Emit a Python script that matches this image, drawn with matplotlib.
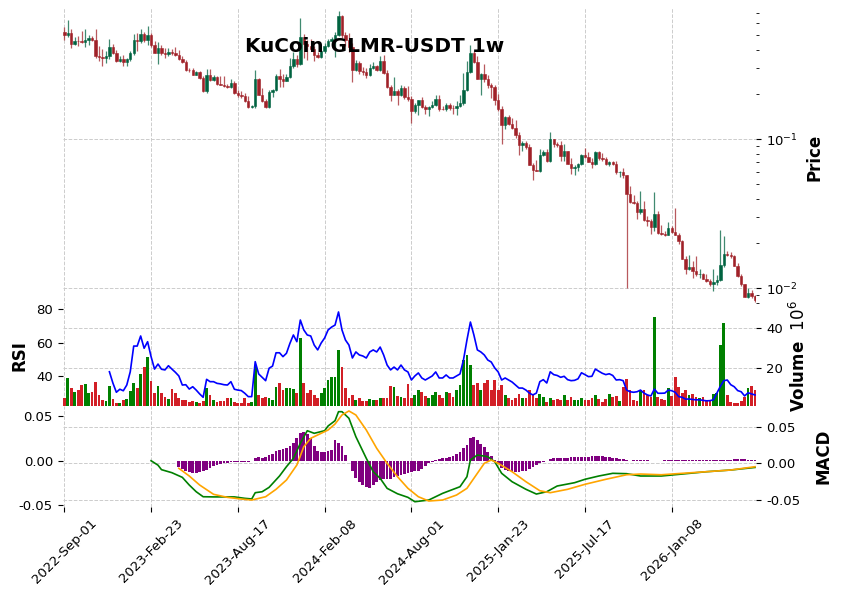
import numpy as np
import matplotlib
matplotlib.use("Agg")
import matplotlib.pyplot as plt
from matplotlib.ticker import NullFormatter, LogLocator, FormatStrFormatter

title = "KuCoin GLMR-USDT 1w"
tick_pos = [0, 25, 50, 75, 100, 125, 150, 175]
tick_labels = ["2022-Sep-01", "2023-Feb-23", "2023-Aug-17", "2024-Feb-08",
               "2024-Aug-01", "2025-Jan-23", "2025-Jul-17", "2026-Jan-08"]

# weekly OHLC (USDT)
opens = [
    0.523, 0.499, 0.517, 0.438, 0.457, 0.455, 0.450, 0.464, 0.479, 0.466,
    0.362, 0.357, 0.352, 0.362, 0.4145, 0.380, 0.337, 0.348, 0.331, 0.348,
    0.380, 0.464, 0.455, 0.509, 0.462, 0.499, 0.428, 0.381, 0.410, 0.378,
    0.373, 0.385, 0.378, 0.366, 0.346, 0.331, 0.293, 0.292, 0.271, 0.281,
    0.258, 0.212, 0.269, 0.249, 0.2606, 0.235, 0.232, 0.228, 0.2245, 0.2387,
    0.2045, 0.1977, 0.1953, 0.1815, 0.164, 0.1681, 0.254, 0.1983, 0.1815, 0.164,
    0.2087, 0.2142, 0.2646, 0.255, 0.2473, 0.2618, 0.3087, 0.348, 0.320, 0.4835,
    0.436, 0.421, 0.4055, 0.368, 0.357, 0.393, 0.421, 0.457, 0.471, 0.503,
    0.6755, 0.499, 0.464, 0.4145, 0.293, 0.325, 0.2862, 0.283, 0.271, 0.301,
    0.309, 0.293, 0.334, 0.280, 0.2233, 0.199, 0.212, 0.1983, 0.221, 0.1932,
    0.1872, 0.1556, 0.1707, 0.1827, 0.164, 0.1591, 0.1647, 0.1707, 0.1872, 0.1598,
    0.1586, 0.1707, 0.1622, 0.161, 0.1681, 0.1752, 0.2142, 0.283, 0.380, 0.331,
    0.255, 0.2754, 0.255, 0.2303, 0.2253, 0.1844, 0.1605, 0.125, 0.1412, 0.1274,
    0.119, 0.1075, 0.092, 0.0944, 0.0888, 0.0676, 0.0625, 0.0614, 0.0789, 0.0823,
    0.0718, 0.1000, 0.093, 0.0916, 0.0769, 0.0831, 0.0683, 0.0642, 0.0652, 0.0683,
    0.0789, 0.0761, 0.0704, 0.0683, 0.0823, 0.0750, 0.0742, 0.0683, 0.0707, 0.0686,
    0.0601, 0.0606, 0.0572, 0.0432, 0.0378, 0.0374, 0.0325, 0.0341, 0.0288, 0.0283,
    0.0257, 0.0315, 0.0236, 0.0232, 0.0228, 0.0254, 0.0239, 0.0229, 0.0206, 0.0158,
    0.0134, 0.0139, 0.0130, 0.0124, 0.0125, 0.0116, 0.0112, 0.0106, 0.0110, 0.0113,
    0.0144, 0.0170, 0.0166, 0.0164, 0.0142, 0.0121, 0.0106, 0.0087, 0.0093, 0.0089,
]
highs = [
    0.567, 0.628, 0.548, 0.486, 0.49, 0.537, 0.553, 0.499, 0.49, 0.548,
    0.423, 0.404, 0.390, 0.473, 0.436, 0.3975, 0.364, 0.37, 0.352, 0.393,
    0.509, 0.517, 0.551, 0.523, 0.575, 0.517, 0.455, 0.45, 0.432, 0.41,
    0.41, 0.404, 0.4145, 0.3975, 0.362, 0.342, 0.302, 0.300, 0.288, 0.287,
    0.265, 0.296, 0.294, 0.271, 0.267, 0.267, 0.267, 0.234, 0.254, 0.245,
    0.215, 0.21, 0.203, 0.194, 0.170, 0.292, 0.258, 0.221, 0.186, 0.213,
    0.218, 0.273, 0.294, 0.274, 0.274, 0.35, 0.385, 0.366, 0.652, 0.509,
    0.466, 0.473, 0.425, 0.385, 0.3975, 0.446, 0.471, 0.486, 0.526, 0.723,
    0.687, 0.526, 0.517, 0.443, 0.341, 0.336, 0.305, 0.301, 0.32, 0.331,
    0.315, 0.36, 0.366, 0.292, 0.2314, 0.2606, 0.218, 0.2314, 0.228, 0.228,
    0.194, 0.174, 0.1844, 0.192, 0.1707, 0.167, 0.181, 0.1983, 0.199, 0.167,
    0.1752, 0.1745, 0.1699, 0.1797, 0.199, 0.277, 0.334, 0.428, 0.393, 0.36,
    0.2785, 0.322, 0.271, 0.2387, 0.2303, 0.2015, 0.1665, 0.143, 0.1456, 0.1387,
    0.1353, 0.112, 0.097, 0.097, 0.093, 0.0694, 0.073, 0.086, 0.0844, 0.0865,
    0.112, 0.101, 0.096, 0.098, 0.0934, 0.0835, 0.075, 0.0676, 0.0694, 0.080,
    0.0875, 0.0823, 0.075, 0.0835, 0.0838, 0.0805, 0.0764, 0.0712, 0.0718, 0.0712,
    0.061, 0.0642, 0.0576, 0.0483, 0.0423, 0.0387, 0.0452, 0.0385, 0.0304, 0.0293,
    0.0442, 0.0329, 0.0267, 0.0241, 0.0279, 0.0261, 0.0344, 0.0236, 0.0212, 0.0164,
    0.0166, 0.0152, 0.0164, 0.0134, 0.0127, 0.0124, 0.0116, 0.0134, 0.0122, 0.0247,
    0.0224, 0.0177, 0.0174, 0.0168, 0.0147, 0.0124, 0.0107, 0.0101, 0.0097, 0.0090,
]
lows = [
    0.466, 0.483, 0.4085, 0.428, 0.421, 0.443, 0.4145, 0.432, 0.455, 0.352,
    0.334, 0.311, 0.325, 0.348, 0.373, 0.331, 0.331, 0.309, 0.311, 0.334,
    0.37, 0.39, 0.44, 0.452, 0.428, 0.4145, 0.378, 0.322, 0.370, 0.352,
    0.365, 0.366, 0.36, 0.341, 0.323, 0.286, 0.283, 0.269, 0.269, 0.254,
    0.208, 0.2045, 0.247, 0.247, 0.2314, 0.230, 0.2253, 0.221, 0.221, 0.2015,
    0.1915, 0.189, 0.178, 0.162, 0.162, 0.161, 0.198, 0.177, 0.162, 0.162,
    0.1915, 0.212, 0.2245, 0.2253, 0.247, 0.258, 0.300, 0.3065, 0.316, 0.352,
    0.342, 0.39, 0.334, 0.352, 0.352, 0.378, 0.415, 0.432, 0.357, 0.49,
    0.479, 0.423, 0.385, 0.2425, 0.2875, 0.274, 0.27, 0.258, 0.266, 0.296,
    0.286, 0.288, 0.2754, 0.221, 0.1815, 0.1977, 0.1699, 0.1953, 0.186, 0.1815,
    0.129, 0.15, 0.145, 0.162, 0.148, 0.143, 0.162, 0.167, 0.155, 0.1573,
    0.1556, 0.1573, 0.148, 0.146, 0.1647, 0.1707, 0.2097, 0.277, 0.325, 0.255,
    0.199, 0.2425, 0.221, 0.189, 0.169, 0.1546, 0.093, 0.1178, 0.1247, 0.1172,
    0.102, 0.0789, 0.0838, 0.0865, 0.0676, 0.0536, 0.061, 0.060, 0.0769, 0.0704,
    0.0705, 0.0883, 0.0888, 0.0718, 0.0712, 0.0683, 0.0585, 0.0572, 0.061, 0.0676,
    0.075, 0.0704, 0.0642, 0.0676, 0.073, 0.0712, 0.0676, 0.0658, 0.0676, 0.0587,
    0.0556, 0.055, 0.0100, 0.0374, 0.037, 0.0293, 0.0315, 0.0281, 0.0261, 0.0232,
    0.0241, 0.0232, 0.0229, 0.0224, 0.0227, 0.0236, 0.0227, 0.0198, 0.0156, 0.0124,
    0.0132, 0.0117, 0.0121, 0.0117, 0.0116, 0.011, 0.0103, 0.0096, 0.0105, 0.0112,
    0.0138, 0.0164, 0.016, 0.014, 0.0119, 0.0104, 0.0087, 0.0086, 0.0086, 0.0081,
]
closes = [
    0.499, 0.517, 0.438, 0.457, 0.455, 0.450, 0.464, 0.479, 0.466, 0.362,
    0.357, 0.352, 0.362, 0.4145, 0.380, 0.337, 0.348, 0.331, 0.348, 0.380,
    0.464, 0.455, 0.509, 0.462, 0.499, 0.428, 0.381, 0.410, 0.378, 0.373,
    0.385, 0.378, 0.366, 0.346, 0.331, 0.293, 0.292, 0.271, 0.281, 0.258,
    0.212, 0.269, 0.249, 0.2606, 0.235, 0.232, 0.228, 0.2245, 0.2387, 0.2045,
    0.1977, 0.1953, 0.1815, 0.164, 0.1681, 0.254, 0.1983, 0.1815, 0.164, 0.2087,
    0.2142, 0.2646, 0.255, 0.2473, 0.2618, 0.3087, 0.348, 0.320, 0.4835, 0.436,
    0.421, 0.4055, 0.368, 0.357, 0.393, 0.421, 0.457, 0.471, 0.503, 0.6755,
    0.499, 0.464, 0.4145, 0.293, 0.325, 0.2862, 0.283, 0.271, 0.301, 0.309,
    0.293, 0.334, 0.280, 0.2233, 0.199, 0.212, 0.1983, 0.221, 0.1932, 0.1872,
    0.1556, 0.1707, 0.1827, 0.164, 0.1591, 0.1647, 0.1707, 0.1872, 0.1598, 0.1586,
    0.1707, 0.1622, 0.161, 0.1681, 0.1752, 0.2142, 0.283, 0.380, 0.331, 0.255,
    0.2754, 0.255, 0.2303, 0.2253, 0.1844, 0.1605, 0.125, 0.1412, 0.1274, 0.119,
    0.1075, 0.092, 0.0944, 0.0888, 0.0676, 0.0625, 0.0614, 0.0789, 0.0823, 0.0718,
    0.1000, 0.093, 0.0916, 0.0769, 0.0831, 0.0683, 0.0642, 0.0652, 0.0683, 0.0789,
    0.0761, 0.0704, 0.0683, 0.0823, 0.0750, 0.0742, 0.0683, 0.0707, 0.0686, 0.0601,
    0.0606, 0.0572, 0.0432, 0.0378, 0.0374, 0.0325, 0.0341, 0.0288, 0.0283, 0.0257,
    0.0315, 0.0236, 0.0232, 0.0228, 0.0254, 0.0239, 0.0229, 0.0206, 0.0158, 0.0134,
    0.0139, 0.0130, 0.0124, 0.0125, 0.0116, 0.0112, 0.0106, 0.0110, 0.0113, 0.0144,
    0.0170, 0.0166, 0.0164, 0.0142, 0.0121, 0.0106, 0.0087, 0.0093, 0.0089, 0.0083,
]
# volume in millions
volume = [
    5, 15, 10, 8, 9, 11.7, 12, 7.7, 8.2, 13,
    6.7, 4.2, 3.7, 11, 4.5, 2.8, 2.5, 4.2, 4.5, 8.7,
    12.8, 10, 17, 20.5, 25.8, 13.7, 7.8, 11.3, 7.8, 5.5,
    4.5, 9.5, 7.5, 5, 4.2, 4.2, 3.3, 3.7, 3, 2.5,
    3.7, 10, 6.7, 4.2, 3.3, 3.8, 3.8, 5, 5, 3.2,
    2.8, 2.5, 5, 2.5, 3, 21.6, 6.7, 5, 5.5, 5.3,
    4.2, 10.8, 12.5, 9.2, 10, 10, 9.5, 7.7, 35, 12.5,
    7.7, 9, 6.5, 5, 7.5, 10, 14, 15.5, 15.5, 29,
    20.5, 10, 5, 6.5, 4, 5, 3.5, 3.5, 4.5, 4,
    4, 5, 5, 5, 11, 10.5, 6, 5.5, 5, 12,
    5, 6.5, 9, 8, 6, 5, 6.5, 8, 6.5, 5,
    8, 7.5, 5.5, 9, 11.5, 24, 26.5, 21.5, 11.5, 12.5,
    9, 12.5, 14, 9, 14, 9, 11.5, 6.5, 5, 4,
    5, 7, 5, 5, 9, 6.5, 5, 7.2, 5.5, 3.3,
    5, 4.2, 4.8, 4.2, 6.7, 4.2, 5.5, 4.2, 4, 5,
    4.2, 4.2, 5, 6.7, 4.5, 3.3, 4.5, 7.2, 5.5, 6,
    3.5, 10.8, 14.5, 9.2, 4.2, 3.5, 9.2, 9.2, 6.7, 5.5,
    45.5, 5.5, 4.5, 4.2, 10, 6, 15.5, 10.5, 7.5, 9.2,
    6.7, 7.2, 5.5, 5, 5.5, 4.2, 3.5, 7.2, 7.7, 31.7,
    42.5, 6.7, 3.3, 2.7, 2.7, 3.5, 5.5, 10, 11.2, 9,
]
# RSI from bar 13 onwards
rsi_start = 13
rsi = [
    42.7, 36, 30.5, 32.3, 31.4, 34.8, 42.7, 58, 58, 64,
    56.7, 60.6, 51.7, 44.3, 47.3, 44.2, 43.8, 46.3, 44.3, 42.4,
    40.2, 34.8, 35, 32.4, 33.8, 31.8, 29.5, 27.5, 38.2, 36.8,
    36.8, 35.8, 35.5, 35, 34.8, 36.8, 32.3, 31.8, 31.5, 29.9,
    27.9, 27.9, 48.7, 41.4, 39.4, 37.4, 44.8, 46.1, 54, 54,
    51.7, 53.7, 59.6, 64.6, 60.6, 73.5, 67.6, 64.6, 64, 58.6,
    55.7, 59.8, 62.8, 67.6, 69.3, 70.5, 78.3, 67.6, 61.6, 58.6,
    50.9, 54.5, 52.7, 52.1, 50.9, 54.5, 55.7, 54.5, 57.4, 52.7,
    46.7, 43.8, 45.5, 43.8, 46.7, 43.8, 42.6, 37.8, 40.2, 42,
    39, 37.8, 39, 40.2, 42.6, 39, 39, 40.8, 39, 39,
    40.2, 41.4, 49.7, 61.6, 72.3, 64.6, 55.7, 54.5, 52.7, 49.7,
    48.5, 45, 42.6, 37.8, 39, 37.8, 36.6, 34.8, 33, 33,
    31.8, 30, 28.9, 30, 36.8, 38, 36, 42.7, 41, 40.5,
    39.4, 40, 38, 37.4, 37.6, 38.5, 42.1, 41, 39.8, 40,
    44.3, 43, 41.8, 41, 41.5, 40.5, 37.8, 38, 37.4, 31.8,
    30.8, 30.5, 30.8, 31.8, 30, 28.9, 28.3, 32.4, 29.9, 29.9,
    30, 31.8, 31.4, 30.5, 27.9, 27.5, 26.4, 26.5, 26.2, 26,
    26, 25.7, 25.4, 25.5, 26, 30, 34, 37.4, 37.8, 35,
    33.8, 31.5, 30.8, 28.3, 30.2, 29.5, 28.9,
]
# MACD line and signal, read at these bars
macd_x = [25, 27, 28, 31, 34, 36, 38, 40, 43, 49, 52, 54, 55, 57, 59, 62, 64, 66,
          68, 70, 72, 75, 76, 78, 79, 80, 82, 84, 87, 89, 91, 93, 96, 99, 101, 105,
          109, 114, 116, 117, 119, 122, 124, 126, 129, 133, 136, 139, 142, 147, 150,
          154, 158, 162, 166, 172, 178, 185, 192, 199]
macd = [0.0, -0.005, -0.010, -0.0134, -0.0186, -0.0272, -0.0347, -0.0403, -0.0405,
        -0.0405, -0.0421, -0.0428, -0.0358, -0.0347, -0.0298, -0.0171, -0.0067, 0.0027,
        0.0195, 0.0336, 0.0307, 0.0336, 0.0389, 0.0448, 0.0549, 0.0549, 0.0475, 0.0269,
        0.0027, -0.0123, -0.0197, -0.0309, -0.0370, -0.0410, -0.0459, -0.044,
        -0.0365, -0.0291, -0.0179, 0.0008, 0.0064, 0.0045, -0.0011, -0.0141, -0.0235,
        -0.032, -0.0373, -0.0347, -0.0283, -0.0246, -0.0208, -0.0171, -0.0141, -0.0145,
        -0.0171, -0.0171, -0.0149, -0.0123, -0.0104, -0.0075]
signal_x = [33, 36, 39, 43, 47, 51, 54, 58, 61, 64, 67, 69, 71, 74, 76, 78, 80, 82,
            84, 87, 90, 93, 96, 99, 102, 105, 109, 113, 116, 119, 121, 123, 125, 129,
            133, 137, 140, 145, 150, 156, 162, 166, 172, 178, 185, 192, 199]
signal = [-0.0085, -0.0171, -0.0272, -0.0376, -0.041, -0.0429, -0.044, -0.0403, -0.032,
          -0.0216, -0.0048, 0.0157, 0.0251, 0.0307, 0.0344, 0.0411, 0.0512, 0.0557,
          0.0512, 0.0344, 0.0139, -0.0029, -0.0179, -0.0309, -0.0403, -0.0451, -0.044,
          -0.0384, -0.0309, -0.0141, -0.0029, 0.0008, -0.0029, -0.0123, -0.0235,
          -0.0336, -0.0358, -0.032, -0.0264, -0.0208, -0.0157, -0.0149, -0.0157,
          -0.0141, -0.0123, -0.0104, -0.0067]
# histogram from bar 33 onwards
hist_start = 33
hist = [
    -0.0067, -0.009, -0.011, -0.0125, -0.0134, -0.0134, -0.013, -0.012, -0.010, -0.008,
    -0.006, -0.005, -0.004, -0.003, -0.002, -0.0015, -0.001, -0.001, -0.001, -0.001,
    -0.001, -0.0005, 0.003, 0.004, 0.003, 0.004, 0.006, 0.008, 0.011, 0.012,
    0.013, 0.014, 0.017, 0.020, 0.026, 0.031, 0.032, 0.030, 0.025, 0.017,
    0.011, 0.010, 0.010, 0.011, 0.012, 0.023, 0.020, 0.016, 0.006, 0.0,
    -0.012, -0.019, -0.024, -0.027, -0.029, -0.030, -0.027, -0.024, -0.022, -0.020,
    -0.021, -0.020, -0.018, -0.017, -0.016, -0.015, -0.014, -0.013, -0.012, -0.0115,
    -0.009, -0.006, -0.003, -0.001, 0.001, 0.002, 0.003, 0.003, 0.004, 0.005,
    0.007, 0.010, 0.014, 0.018, 0.025, 0.027, 0.023, 0.019, 0.015, 0.010,
    0.005, 0.001, -0.004, -0.008, -0.010, -0.012, -0.013, -0.013, -0.013, -0.012,
    -0.011, -0.009, -0.007, -0.005, -0.003, -0.001, 0.0, 0.002, 0.003, 0.003,
    0.003, 0.003, 0.003, 0.004, 0.004, 0.004, 0.004, 0.004, 0.004, 0.005,
    0.005, 0.005, 0.005, 0.004, 0.004, 0.003, 0.003, 0.002, 0.002, 0.001,
    0.0, 0.0005, 0.0005, 0.0005, 0.0005, 0.0005, 0.0, 0.0, 0.0, 0.0,
    0.001, 0.001, 0.001, 0.001, 0.001, 0.001, 0.001, 0.001, 0.001, 0.001,
    0.001, 0.001, 0.001, 0.001, 0.001, 0.001, 0.001, 0.0012, 0.0012, 0.0012,
    0.0015, 0.0015, 0.0015, 0.0015, 0.0012, 0.0012, 0.0012,
]

UP, DOWN = "#006340", "#a02128"
VUP, VDOWN = "#008000", "#d21f26"
GRID = dict(linestyle="--", color="#cccccc", linewidth=0.7)

plt.rcParams["font.size"] = 9.5
fig = plt.figure(figsize=(8.41, 5.99), dpi=100)
W, H = 841.0, 599.0


def box(top, bot):
    return [62.7 / W, 1 - bot / H, 693.8 / W, (bot - top) / H]


ax_p = fig.add_axes(box(8, 306))
ax_v = fig.add_axes(box(306, 405.7), sharex=ax_p)
ax_m = fig.add_axes(box(405.7, 507), sharex=ax_p)

x = np.arange(len(closes))
o, h, l, c = map(np.array, (opens, highs, lows, closes))
up = c >= o
ccol = np.where(up, UP, DOWN)

# candles
ax_p.set_yscale("log")
ax_p.vlines(x, l, h, colors=ccol, linewidth=0.9, alpha=0.75)
ax_p.bar(x, np.abs(c - o), bottom=np.minimum(o, c), width=0.7,
         color=ccol, edgecolor=ccol, linewidth=0.4)
ax_p.set_ylim(0.0076, 0.7606)
ax_p.yaxis.set_major_locator(LogLocator(base=10))
ax_p.yaxis.set_minor_locator(LogLocator(base=10, subs=np.arange(2, 10)))
ax_p.yaxis.set_minor_formatter(NullFormatter())
ax_p.yaxis.tick_right()
ax_p.yaxis.set_label_position("right")
ax_p.set_ylabel("Price", fontsize=12, fontweight="bold")
ax_p.yaxis.set_label_coords(1.070, 0.5)
ax_p.grid(True, which="major", **GRID)
ax_p.tick_params(axis="x", bottom=False, labelbottom=False)
fig.text(375 / W, 1 - 47 / H, title, ha="center", va="center",
         fontsize=14.4, fontweight="bold")

# volume + RSI
vcol = np.where(up, VUP, VDOWN)
ax_v.bar(x, volume, width=0.8, color=vcol)
ax_v.set_ylim(1.3, 51.15)
ax_v.set_yticks([20, 40])
ax_v.grid(True, **GRID)
ax_v.tick_params(axis="x", bottom=False, labelbottom=False)
ax_r = ax_v.twinx()
ax_r.plot(np.arange(rsi_start, rsi_start + len(rsi)), rsi, color="blue", linewidth=1.2)
ax_r.set_ylim(22.5, 81.85)
ax_r.set_yticks([40, 60, 80])
ax_v.yaxis.tick_right()
ax_v.yaxis.set_label_position("right")
ax_v.set_ylabel("Volume  $10^{6}$", fontsize=12, fontweight="bold")
ax_v.yaxis.set_label_coords(1.047, 0.5)
ax_r.yaxis.tick_left()
ax_r.yaxis.set_label_position("left")
ax_r.set_ylabel("RSI", fontsize=12, fontweight="bold")
ax_r.yaxis.set_label_coords(-0.050, 0.5)

# MACD
ax_m.set_ylim(-0.0596, 0.0786)
ax_m.set_yticks([-0.05, 0.0, 0.05])
ax_m.yaxis.set_major_formatter(FormatStrFormatter("%.2f"))
ax_m.grid(True, **GRID)
ax_m2 = ax_m.twinx()
hx = np.arange(hist_start, hist_start + len(hist))
ax_m2.bar(hx, hist, width=0.8, color="purple")
ax_m2.plot(macd_x, macd, color="green", linewidth=1.2)
ax_m2.plot(signal_x, signal, color="orange", linewidth=1.2)
ax_m2.set_ylim(-0.0518, 0.0616)
ax_m2.set_yticks([-0.05, 0.0, 0.05])
ax_m2.yaxis.set_major_formatter(FormatStrFormatter("%.2f"))
ax_m.yaxis.tick_right()
ax_m.yaxis.set_label_position("right")
ax_m.set_ylabel("MACD", fontsize=12, fontweight="bold")
ax_m.yaxis.set_label_coords(1.083, 0.5)
ax_m2.yaxis.tick_left()
ax_m.set_xticks(tick_pos)
ax_m.set_xticklabels(tick_labels, rotation=45)
ax_m.set_xlim(-0.46, 199.42)

for ax in (ax_p, ax_v, ax_r, ax_m, ax_m2):
    ax.set_axisbelow(True)
    for s in ax.spines.values():
        s.set_visible(False)

fig.savefig("out.png", dpi=100)
